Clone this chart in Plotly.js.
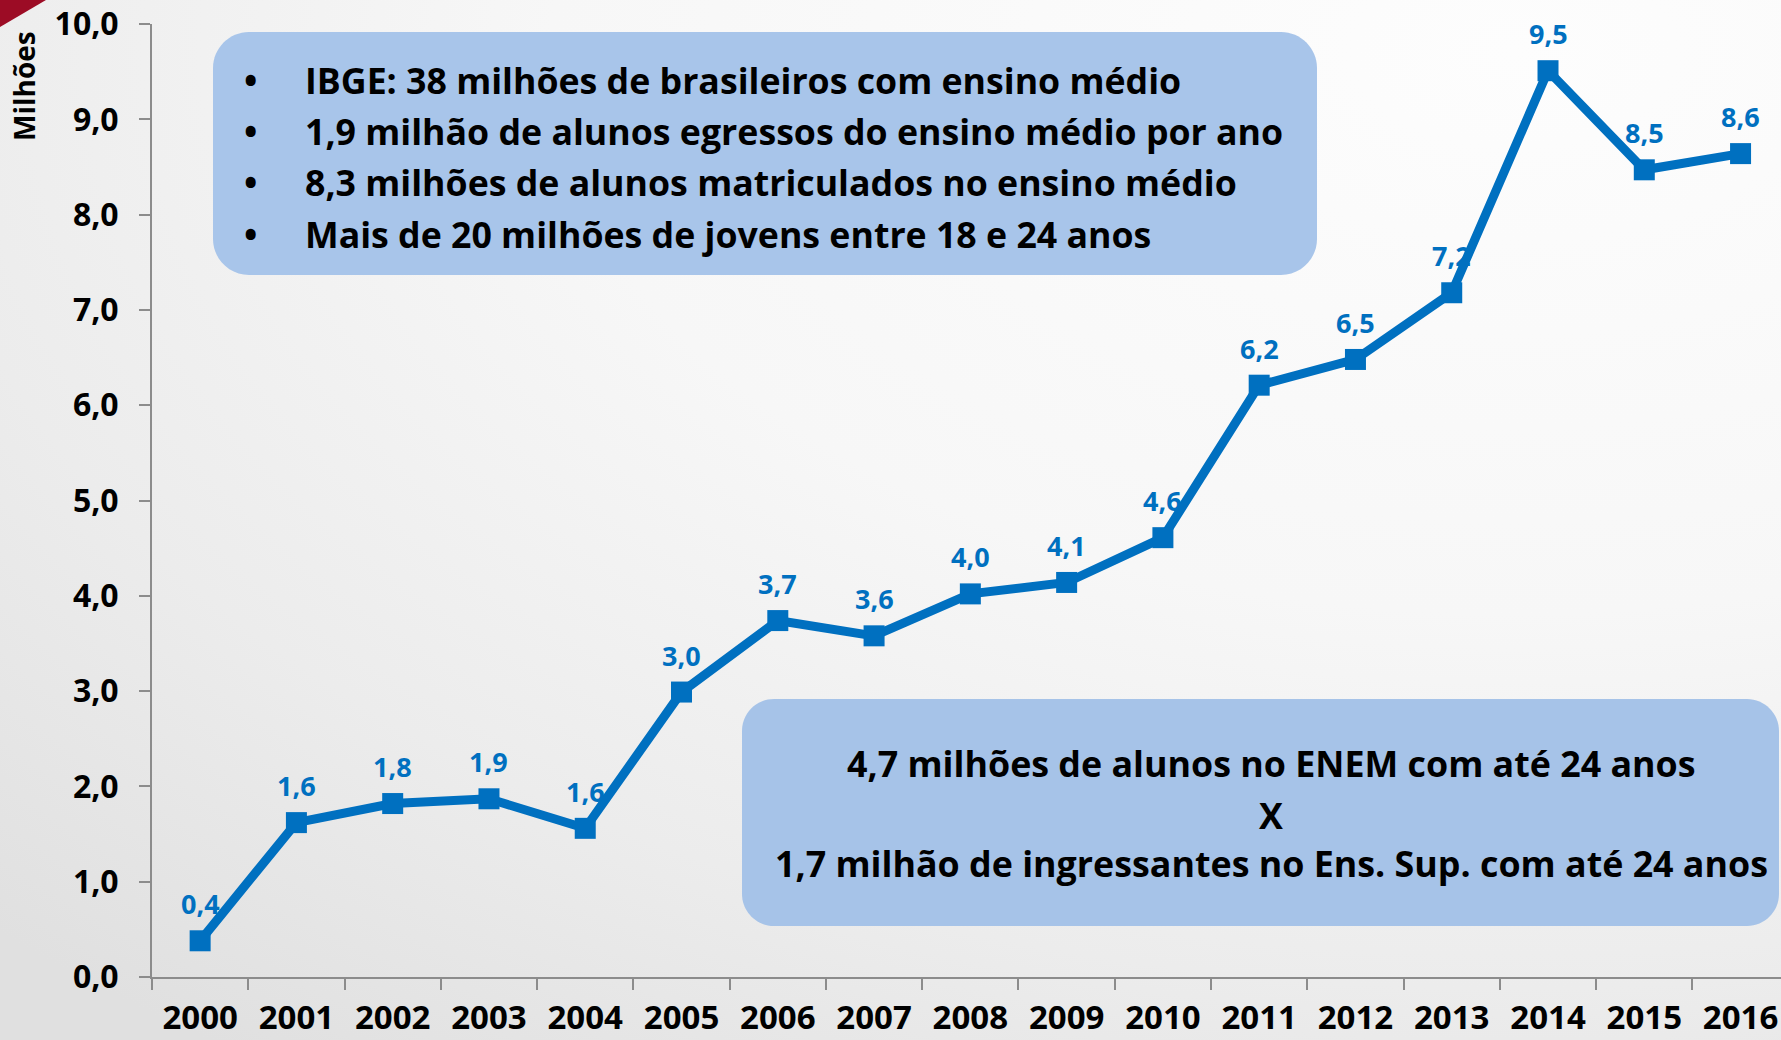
<!DOCTYPE html>
<html>
<head>
<meta charset="utf-8">
<script src="https://cdn.plot.ly/plotly-3.0.1.min.js"></script>
<style>
html, body { margin:0; padding:0; }
body {
  width:1781px; height:1040px; overflow:hidden;
  background: radial-gradient(ellipse 120% 120% at 85% 5%, #fdfdfd 0%, #f7f7f7 45%, #ececec 75%, #e0e0e0 100%);
}
#chart { width:1781px; height:1040px; }
</style>
</head>
<body>
<div id="chart"></div>
<script>
// ---- data ----
const years = ["2000","2001","2002","2003","2004","2005","2006","2007","2008","2009","2010","2011","2012","2013","2014","2015","2016"];
const values = [0.38, 1.62, 1.82, 1.87, 1.56, 2.99, 3.74, 3.58, 4.02, 4.14, 4.61, 6.21, 6.48, 7.18, 9.51, 8.47, 8.64];
const yTitle = "Milhões";
const box1Lines = [
  "IBGE: 38 milhões de brasileiros com ensino médio",
  "1,9 milhão de alunos egressos do ensino médio por ano",
  "8,3 milhões de alunos matriculados no ensino médio",
  "Mais de 20 milhões de jovens entre 18 e 24 anos"
];
const box2Lines = [
  "4,7 milhões de alunos no ENEM com até 24 anos",
  "X",
  "1,7 milhão de ingressantes no Ens. Sup. com até 24 anos"
];

// ---- geometry helpers (page pixels -> paper fractions) ----
const W = 1781, H = 1040;
const M = {l:152, r:0, t:24, b:63};
const PW = W - M.l - M.r, PH = H - M.t - M.b;
const px = x => (x - M.l) / PW;
const py = y => (H - M.b - y) / PH;

function roundRect(x0, y0, x1, y1, r) {
  const k = 0.45 * r;
  const P = (x, y) => px(x).toFixed(5) + "," + py(y).toFixed(5);
  return "M" + P(x0 + r, y0) +
    " L" + P(x1 - r, y0) +
    " C" + P(x1 - k, y0) + " " + P(x1, y0 + k) + " " + P(x1, y0 + r) +
    " L" + P(x1, y1 - r) +
    " C" + P(x1, y1 - k) + " " + P(x1 - k, y1) + " " + P(x1 - r, y1) +
    " L" + P(x0 + r, y1) +
    " C" + P(x0 + k, y1) + " " + P(x0, y1 - k) + " " + P(x0, y1 - r) +
    " L" + P(x0, y0 + r) +
    " C" + P(x0, y0 + k) + " " + P(x0 + k, y0) + " " + P(x0 + r, y0) + " Z";
}

const FONT = "Open Sans, Noto Sans, sans-serif";
const BLUE = "#0070C0";
const AXIS = "#8c8c8c";

const trace = {
  type: "scatter",
  mode: "lines+markers",
  x: years,
  y: values,
  line: {color: BLUE, width: 9},
  marker: {symbol: "square", size: 21, color: BLUE},
  cliponaxis: false,
  hoverinfo: "skip"
};

const annotations = [];
// data labels (x given as category index)
years.forEach((yr, i) => {
  annotations.push({
    x: i, y: values[i], xref: "x", yref: "y",
    text: values[i].toFixed(1).replace(".", ","),
    showarrow: false, yshift: 37, xanchor: "center", yanchor: "middle",
    font: {family: FONT, size: 27, color: BLUE, weight: 700}
  });
});
// axis title
annotations.push({
  xref: "paper", yref: "paper", x: px(24), y: py(86),
  xanchor: "center", yanchor: "middle",
  text: yTitle, textangle: -90, showarrow: false,
  font: {family: FONT, size: 28, color: "#000", weight: 700}
});
// box 1 lines
const b1y = [80, 131, 182, 234];
box1Lines.forEach((t, i) => {
  annotations.push({
    xref: "paper", yref: "paper", x: px(250), y: py(b1y[i]),
    text: "•", showarrow: false, xanchor: "center", yanchor: "middle",
    font: {family: FONT, size: 35.7, color: "#000", weight: 700}
  });
  annotations.push({
    xref: "paper", yref: "paper", x: px(303), y: py(b1y[i]),
    text: t, showarrow: false, xanchor: "left", yanchor: "middle",
    font: {family: FONT, size: 35.7, color: "#000", weight: 700}
  });
});
// box 2 lines
const b2y = [763, 815, 863];
box2Lines.forEach((t, i) => {
  annotations.push({
    xref: "paper", yref: "paper", x: px(1271), y: py(b2y[i]),
    text: t, showarrow: false, xanchor: "center", yanchor: "middle",
    font: {family: FONT, size: 35.8, color: "#000", weight: 700}
  });
});

const shapes = [
  {type: "path", xref: "paper", yref: "paper", layer: "below",
   path: roundRect(213, 32, 1317, 275, 36),
   fillcolor: "#a8c5ea", line: {width: 0}},
  {type: "path", xref: "paper", yref: "paper", layer: "below",
   path: roundRect(742, 699, 1779, 926, 32),
   fillcolor: "#a6c3e8", line: {width: 0}},
  {type: "path", xref: "paper", yref: "paper", layer: "below",
   path: "M" + px(0) + "," + py(0) + " L" + px(46) + "," + py(0) + " L" + px(0) + "," + py(27) + " Z",
   fillcolor: "#9c0c25", line: {width: 0}}
];

const layout = {
  width: W, height: H,
  margin: {l: M.l, r: M.r, t: M.t, b: M.b, pad: 0},
  autosize: false,
  paper_bgcolor: "rgba(0,0,0,0)",
  plot_bgcolor: "rgba(0,0,0,0)",
  separators: ",.",
  showlegend: false,
  xaxis: {
    type: "category",
    categoryorder: "array", categoryarray: years,
    range: [-0.5, 16.42],
    tickson: "boundaries",
    ticks: "outside", ticklen: 11, tickwidth: 2, tickcolor: AXIS,
    showline: true, linecolor: AXIS, linewidth: 2,
    showgrid: false, zeroline: false,
    ticklabelstandoff: 10,
    tickfont: {family: FONT, size: 33, color: "#000", weight: 700},
    fixedrange: true
  },
  yaxis: {
    range: [0, 10], dtick: 1, tick0: 0, tickformat: ".1f",
    ticks: "outside", ticklen: 11, tickwidth: 2, tickcolor: AXIS,
    showline: true, linecolor: AXIS, linewidth: 2,
    showgrid: false, zeroline: false,
    ticklabelstandoff: 14,
    tickfont: {family: FONT, size: 32, color: "#000", weight: 700},
    fixedrange: true
  },
  shapes: shapes,
  annotations: annotations
};

Plotly.newPlot("chart", [trace], layout, {displayModeBar: false, staticPlot: true});
</script>
</body>
</html>
